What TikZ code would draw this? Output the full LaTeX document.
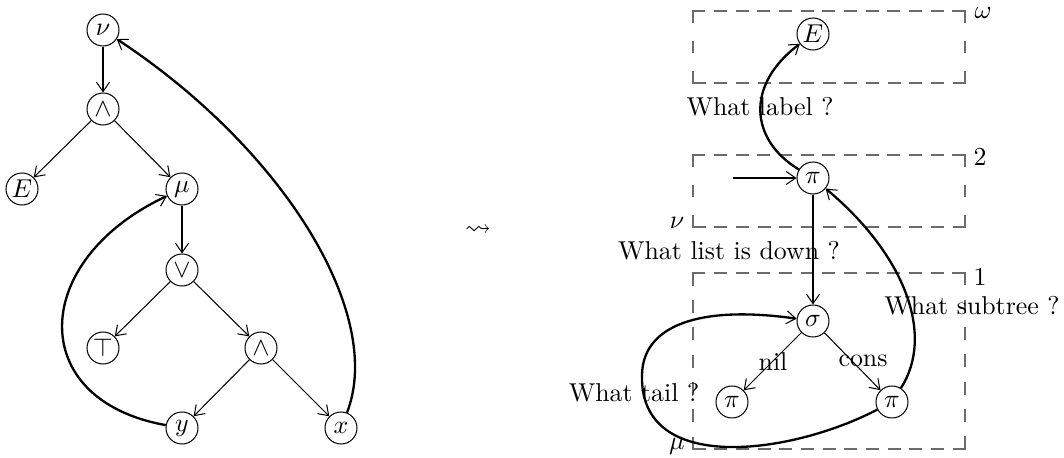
\documentclass[tikz,border=0pt]{standalone}
\usepackage{amssymb}
\usetikzlibrary{arrows.meta}
\begin{document}
\begin{tikzpicture}[x=0.3875pt,y=-0.3875pt,
  vert/.style={circle,draw,line width=0.4pt,inner sep=0pt,minimum size=12.4pt},
  thin/.style={line width=0.4pt,-{Straight Barb[length=3.6pt,width=5pt,line width=0.4pt]}},
  heavy/.style={line width=0.9pt,-{Straight Barb[length=3.6pt,width=5pt,line width=0.4pt]}},
  % gap #1 is chosen per side so that each side starts and ends with a dash
  frame/.style={draw=black!58,line width=0.5pt,line cap=rect,dash pattern=on 4.5pt off #1},
  lbl/.style={inner sep=0pt}]
\useasboundingbox (0,0) rectangle (1064,458);

% left-hand graph
\node[vert] (nu)   at (103,30)  {$\nu$};
\node[vert] (and1) at (103,109) {$\wedge$};
\node[vert] (El)   at (22,189)  {$E$};
\node[vert] (mu)   at (182,189) {$\mu$};
\node[vert] (or)   at (182,270) {$\vee$};
\node[vert] (tt)   at (103,348) {$\top$};
\node[vert] (and2) at (261,348) {$\wedge$};
\node[vert] (y)    at (182,428) {$y$};
\node[vert] (x)    at (341,428) {$x$};

\draw[heavy] (nu) -- (and1);
\draw[thin] (and1) -- (El);
\draw[thin] (and1) -- (mu);
\draw[heavy] (mu) -- (or);
\draw[thin] (or) -- (tt);
\draw[thin] (or) -- (and2);
\draw[thin] (and2) -- (y);
\draw[thin] (and2) -- (x);
\draw[heavy] (x) .. controls (385,315) and (285,150) .. (nu);
\draw[heavy] (y) .. controls (25,400) and (30,260) .. (mu);

% transformation sign
\node[lbl] (leads) at (478,231) {$\leadsto$};

% right-hand graph: frames, each side drawn on its own so every corner is closed
\foreach \t/\b/\g in {11/83/7.2pt, 155/227/7.2pt, 273/449/6.1pt} {
  \coordinate (tl) at (693,\t);
  \coordinate (tr) at (965,\t);
  \coordinate (bl) at (693,\b);
  \coordinate (br) at (965,\b);
  \draw[frame=3.9pt] (tl) -- (tr);
  \draw[frame=\g] (tr) -- (br);
  \draw[frame=3.9pt] (br) -- (bl);
  \draw[frame=\g] (bl) -- (tl);
}
\node[lbl] (lomega) at (983,13)  {$\omega$};
\node[lbl] (ltwo)   at (980,157) {$2$};
\node[lbl] (lone)   at (980,277) {$1$};
\node[lbl] (lnu)    at (677,223) {$\nu$};
\node[lbl] (lmu)    at (677,446) {$\mu$};

% right-hand graph: nodes
\node[vert] (Er)  at (813,34)  {$E$};
\node[vert] (pi2) at (813,178) {$\pi$};
\node[vert] (sg)  at (813,321) {$\sigma$};
\node[vert] (pil) at (732,402) {$\pi$};
\node[vert] (pir) at (892,402) {$\pi$};
\coordinate (in) at (733,178);

\draw[heavy] (in) -- (pi2);
\draw[heavy] (pi2) .. controls (750,140) and (745,85) .. (Er);
\draw[heavy] (pi2) -- (sg);
\draw[thin] (sg) -- (pil);
\draw[thin] (sg) -- (pir);
\draw[heavy] (pir) .. controls (935,335) and (905,255) .. (pi2);
\coordinate (loop) at (642,376);
\draw[heavy] (pir) .. controls (790,455) and (640,475) .. (loop)
  .. controls (642,325) and (700,305) .. (sg);

% edge texts
\node[lbl] (q1) at (760,107) {What label ?};
\node[lbl] (q2) at (729,251) {What list is down ?};
\node[lbl] (q3) at (972,306) {What subtree ?};
\node[lbl] (q4) at (634,393) {What tail ?};
\node[lbl] (tnil)  at (773,362) {nil};
\node[lbl] (tcons) at (863,361) {cons};
\end{tikzpicture}
\end{document}
